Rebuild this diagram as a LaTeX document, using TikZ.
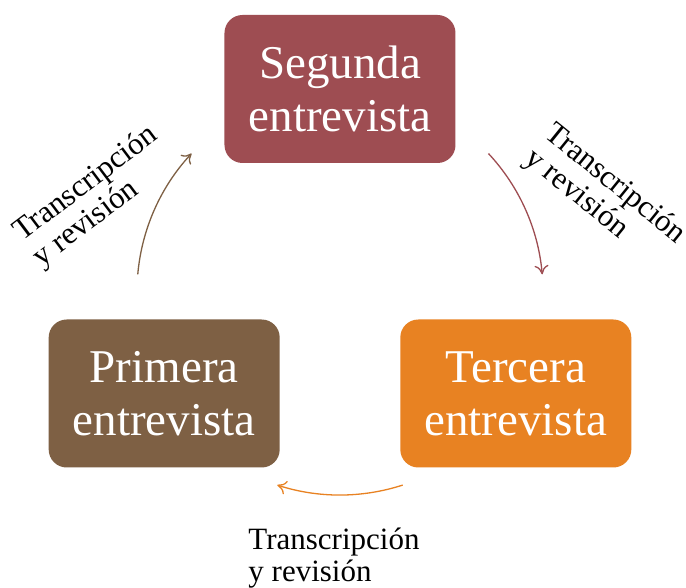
\documentclass[tikz,border=0pt]{standalone}
\usepackage{fontspec}
\setmainfont{Liberation Serif}
\usetikzlibrary{arrows.meta}
\definecolor{segcol}{RGB}{158,77,82}
\definecolor{primcol}{RGB}{126,96,68}
\definecolor{tercol}{RGB}{232,130,34}
\tikzset{
  etapa/.style={rounded corners=18pt, minimum width=231pt, minimum height=148pt,
    text=white, align=center, font=\fontsize{47}{53}\selectfont},
  paso/.style={align=left, font=\fontsize{31}{32}\selectfont},
  flecha/.style={line width=1.3pt, -{To[length=9pt,width=14pt]}}
}
\begin{document}
\begin{tikzpicture}[x=1pt,y=1pt]
      \useasboundingbox[fill=white] (-340,-296) rectangle (346,292);
      \path
        (90:203) node[etapa, fill=segcol] (seg) {Segunda\\entrevista}
        (210:203) node[etapa, fill=primcol] (prim) {Primera\\entrevista}
        (330:203) node[etapa, fill=tercol] (ter) {Tercera\\entrevista};
      \coordinate (a1) at (175:203);
      \coordinate (a2) at (43:203);
      \coordinate (a3) at (-72:203);
      \begin{scope}
        \draw[flecha, primcol] (a1) arc[start angle=175, end angle=137, radius=203];
        \draw[flecha, segcol] (a2) arc[start angle=43, end angle=5, radius=203];
        \draw[flecha, tercol] (a3) arc[start angle=-72, end angle=-108, radius=203];
      \end{scope}
      \node[paso, rotate=37] (t1) at (-244,95) {Transcripción\\y revisión};
      \node[paso, rotate=-39] (t2) at (265,95) {Transcripción\\y revisión};
      \node[paso] (t3) at (-6,-266) {Transcripción\\y revisión};
    \end{tikzpicture}
\end{document}
